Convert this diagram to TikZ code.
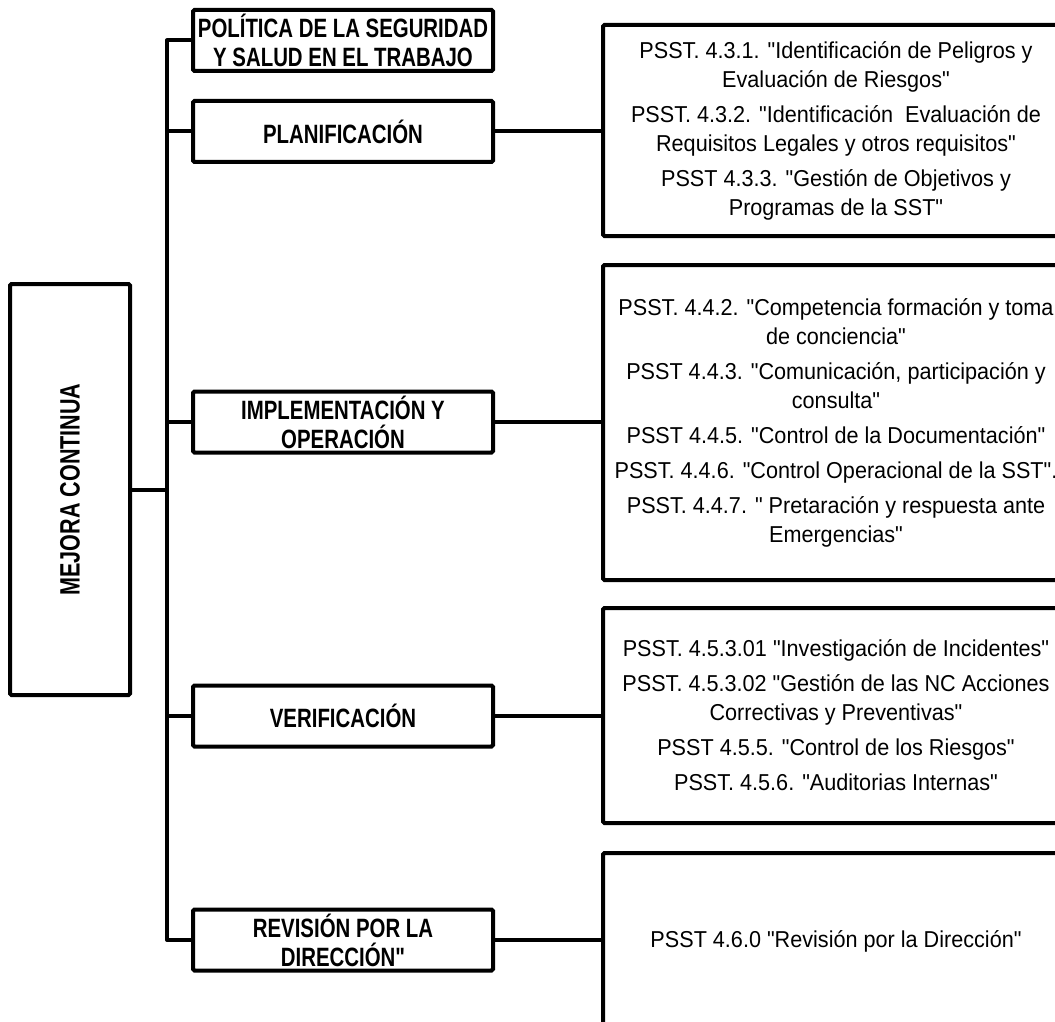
\documentclass[tikz,border=0pt]{standalone}
\usepackage{fontspec}
\usepackage{graphicx}
\setmainfont{Liberation Sans}
\newfontfamily\lblfont[FakeStretch=0.77]{Liberation Sans}
\newfontfamily\itemfont[FakeStretch=0.94]{Liberation Sans}
\begin{document}
\begin{tikzpicture}[x=1pt,y=-1pt,
  ln/.style={line width=4pt, line join=round},
  phase/.style={draw, line width=4pt, rounded corners=1.5pt, minimum width=300pt, minimum height=61pt,
     inner sep=0pt, align=center, font=\lblfont\bfseries\fontsize{26.5}{29}\selectfont},
  docs/.style={draw, line width=4pt, rounded corners=1.5pt, minimum width=466pt,
     inner sep=0pt, align=center, font=\itemfont\fontsize{23}{29}\selectfont},
  mainbox/.style={draw, line width=4pt, rounded corners=1.5pt, minimum width=120pt, minimum height=411pt,
     inner sep=0pt, font=\lblfont\bfseries\fontsize{28}{30}\selectfont}]
\useasboundingbox (0,0) rectangle (1055,1022);
\clip (0,0) rectangle (1055,1022);

\node[mainbox] (mej) at (70,489.5) {\rotatebox{90}{MEJORA CONTINUA}};

\node[phase] (pol) at (343,40.5) {POLÍTICA DE LA SEGURIDAD\\Y SALUD EN EL TRABAJO};
\node[phase] (pla) at (343,131.5) {PLANIFICACIÓN};
\node[phase] (imp) at (343,422) {IMPLEMENTACIÓN Y\\OPERACIÓN};
\node[phase] (ver) at (343,716) {VERIFICACIÓN};
\node[phase] (rev) at (343,940) {REVISIÓN POR LA\\DIRECCIÓN"};

\node[docs, minimum height=211pt] (d1) at (836,130.5) {PSST. 4.3.1. "Identificación de Peligros y\\Evaluación de Riesgos"\\[6pt]
PSST. 4.3.2. "Identificación\ \ Evaluación de\\Requisitos Legales y otros requisitos"\\[6pt]
PSST 4.3.3. "Gestión de Objetivos y\\Programas de la SST"};

\node[docs, minimum height=315pt] (d2) at (836,422.5) {PSST. 4.4.2. "Competencia formación y toma\\de conciencia"\\[6pt]
PSST 4.4.3. "Comunicación, participación y\\consulta"\\[6pt]
PSST 4.4.5. "Control de la Documentación"\\[6pt]
PSST. 4.4.6. "Control Operacional de la SST".\\[6pt]
PSST. 4.4.7. " Pretaración y respuesta ante\\Emergencias"};

\node[docs, minimum height=215pt] (d3) at (836,715.5) {PSST. 4.5.3.01 "Investigación de Incidentes"\\[6pt]
PSST. 4.5.3.02 "Gestión de las NC Acciones\\Correctivas y Preventivas"\\[6pt]
PSST 4.5.5. "Control de los Riesgos"\\[6pt]
PSST. 4.5.6. "Auditorias Internas"};

\node[docs, minimum height=176pt] (d4) at (836,941) {PSST 4.6.0 "Revisión por la Dirección"};

\coordinate (ttop) at (167,40.5);
\coordinate (tbot) at (167,940);

\draw[ln] (pol.west) -- (ttop) -- (tbot) -- (rev.west);
\draw[ln] (mej.east) -- (mej.east -| ttop);
\draw[ln] (pla.west) -- (pla.west -| ttop);
\draw[ln] (imp.west) -- (imp.west -| ttop);
\draw[ln] (ver.west) -- (ver.west -| ttop);

\draw[ln] (pla.east) -- (pla.east -| d1.west);
\draw[ln] (imp.east) -- (imp.east -| d2.west);
\draw[ln] (ver.east) -- (ver.east -| d3.west);
\draw[ln] (rev.east) -- (rev.east -| d4.west);
\end{tikzpicture}
\end{document}
